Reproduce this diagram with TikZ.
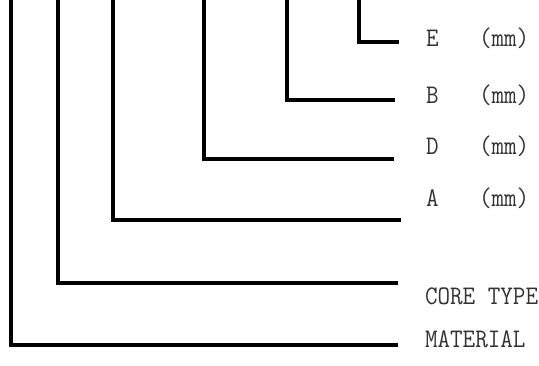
\documentclass[tikz,border=0pt]{standalone}
\usepackage{fontspec}
\usepackage{graphicx}
\tikzset{
  lead/.style={line width=3.2pt, line join=miter, draw=black},
  lbl/.style={anchor=base west, inner sep=0pt, outer sep=0pt, text=black!80,
    font=\ttfamily\fontsize{24.4}{27}\selectfont}
}
\newcommand{\tallt}[1]{\scalebox{1}[1.1]{#1}}
\begin{document}
\begin{tikzpicture}[x=1pt,y=-1pt]
\useasboundingbox (0,0) rectangle (539,366);
% labels
\node[lbl] (labE) at (426,47) {\tallt{E}};
\node[lbl] (unitE) at (479,47) {\tallt{(mm)}};
\node[lbl] (labB) at (426,104) {\tallt{B}};
\node[lbl] (unitB) at (479,104) {\tallt{(mm)}};
\node[lbl] (labD) at (426,155) {\tallt{D}};
\node[lbl] (unitD) at (479,155) {\tallt{(mm)}};
\node[lbl] (labA) at (426,207) {\tallt{A}};
\node[lbl] (unitA) at (479,207) {\tallt{(mm)}};
\node[lbl] (labCore) at (425,305) {\tallt{CORE TYPE}};
\node[lbl] (labMat) at (425,348) {\tallt{MATERIAL}};
% top ends and right ends of leaders
\coordinate (topE) at (359,-4);
\coordinate (endE) at (399,42);
\coordinate (topB) at (287,-4);
\coordinate (endB) at (395,100);
\coordinate (topD) at (204,-4);
\coordinate (endD) at (394,159);
\coordinate (topA) at (113,-4);
\coordinate (endA) at (401,220);
\coordinate (topCore) at (58,-4);
\coordinate (endCore) at (398,283);
\coordinate (topMat) at (11,-4);
\coordinate (endMat) at (398,345);
% leaders
\draw[lead] (topE) |- (endE);
\draw[lead] (topB) |- (endB);
\draw[lead] (topD) |- (endD);
\draw[lead] (topA) |- (endA);
\draw[lead] (topCore) |- (endCore);
\draw[lead] (topMat) |- (endMat);
\end{tikzpicture}
\end{document}
